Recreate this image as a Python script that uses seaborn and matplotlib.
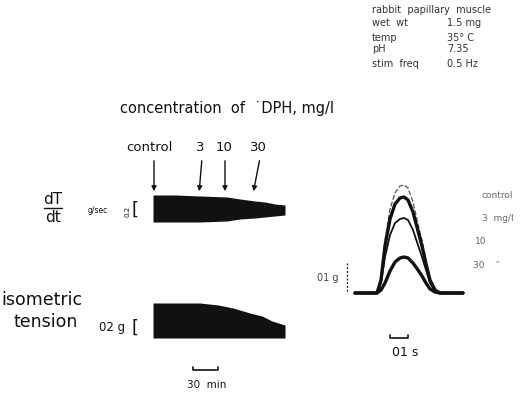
import numpy as np
import pandas as pd
import matplotlib
matplotlib.use('Agg')
import matplotlib.pyplot as plt
import seaborn as sns

sns.set_theme(style='white')
plt.rcParams['font.family'] = ['DejaVu Sans']

# --- data (canvas units = pixels, y downwards)
doses = ['control', '3', '10', '30']
dose_arrow_x = [154, 199, 225, 253]
dose_arrow_top_x = [154, 202, 225, 260]
dose_label_x = [149, 200, 224, 258]

# dT/dt chart-recorder band (upper and lower envelope)
dtdt_x = [153, 175, 200, 227, 240, 255, 265, 275, 285]
dtdt_upper = [195, 195, 196, 197, 199, 201, 202, 204, 205]
dtdt_lower = [222, 222, 222, 221, 219, 218, 217, 216, 215]

# isometric tension band
tens_x = [153, 180, 200, 218, 233, 250, 262, 272, 285]
tens_upper = [303, 303, 303, 305, 308, 313, 316, 321, 325]
tens_lower = [338, 338, 338, 338, 338, 338, 338, 338, 338]

# single twitches (right panel)
twitch_x = [355, 372, 377, 381, 385, 390, 395, 400, 404, 408, 413, 418, 422, 426, 430, 435, 440, 463]
twitch_control = [293, 293, 293, 279, 240, 209, 193, 186, 185, 188, 202, 224, 240, 260, 279, 290, 293, 293]
twitch_3 = [293, 293, 293, 280, 246, 219, 204, 198, 197, 200, 212, 231, 246, 264, 280, 290, 293, 293]
twitch_10 = [293, 293, 293, 283, 257, 235, 223, 219, 218, 220, 230, 245, 257, 270, 283, 291, 293, 293]
twitch_30 = [293, 293, 293, 290, 283, 271, 262, 258, 257, 258, 263, 270, 276, 283, 289, 292, 293, 293]
twitch_labels = ['control', '3  mg/l', '10', '30    \u2033']
twitch_label_y = [195, 218, 241, 266]
twitch_label_x = [482, 482, 475, 473]

info_names = ['wet  wt', 'temp', 'pH', 'stim  freq']
info_values = ['1.5 mg', '35\u00b0 C', '7.35', '0.5 Hz']
info_y = [23, 38, 49, 64]

fig = plt.figure(figsize=(5.22, 3.94), dpi=100)
ax = fig.add_axes([0, 0, 1, 1])
ax.set_xlim(0, 522)
ax.set_ylim(394, 0)
ax.axis('off')

ink = '#111111'

# --- header block
ax.text(372, 10, 'rabbit  papillary  muscle', fontsize=7, color='#333333', va='center')
for name, val, y in zip(info_names, info_values, info_y):
    ax.text(372, y, name, fontsize=7, color='#333333', va='center')
    ax.text(447, y, val, fontsize=7, color='#333333', va='center')

ax.text(120, 108, 'concentration  of  \u02d9DPH, mg/l', fontsize=10.5, color=ink, va='center')

# dose labels and arrows
for lab, lx, ax_bot, ax_top in zip(doses, dose_label_x, dose_arrow_x, dose_arrow_top_x):
    ax.text(lx, 147, lab, fontsize=9.5, color=ink, ha='center', va='center')
    ax.annotate('', xy=(ax_bot, 194), xytext=(ax_top, 158),
                arrowprops=dict(arrowstyle='-|>', lw=1.0, color=ink, mutation_scale=7))

# bands
ax.fill_between(dtdt_x, dtdt_upper, dtdt_lower, color=ink, lw=0)
ax.fill_between(tens_x, tens_upper, tens_lower, color=ink, lw=0)

# dT/dt label
ax.text(53, 199, 'dT', fontsize=11, color=ink, ha='center', va='center')
ax.plot([44, 62], [208, 208], color=ink, lw=1)
ax.text(53, 217, 'dt', fontsize=11, color=ink, ha='center', va='center')
ax.text(98, 210, 'g/sec', fontsize=5.5, color=ink, ha='center', va='center')
ax.text(127, 211, '0.2', fontsize=5, color=ink, ha='center', va='center', rotation=90)
ax.text(135, 210, '[', fontsize=13, color=ink, ha='center', va='center')

# isometric tension label
ax.text(1, 300, 'isometric', fontsize=12.5, color=ink, va='center')
ax.text(13, 322, 'tension', fontsize=12.5, color=ink, va='center')
ax.text(112, 328, '02 g', fontsize=8.5, color=ink, ha='center', va='center')
ax.text(135, 328, '[', fontsize=13, color=ink, ha='center', va='center')

# time bar 30 min
ax.plot([193, 193, 218, 218], [367, 370, 370, 367], color=ink, lw=1.2)
ax.text(207, 385, '30  min', fontsize=7.5, color=ink, ha='center', va='center')

# --- twitches
tw = pd.DataFrame({'x': twitch_x, 'control': twitch_control, '3': twitch_3,
                   '10': twitch_10, '30': twitch_30})
styles = {'control': dict(lw=0.9, color='#555555', ls=(0, (4, 1.5))),
          '3': dict(lw=2.4, color=ink, ls='-'),
          '10': dict(lw=1.3, color=ink, ls='-'),
          '30': dict(lw=2.4, color=ink, ls='-')}
for d in doses:
    sns.lineplot(data=tw, x='x', y=d, ax=ax, legend=False, **styles[d])
ax.set_xlim(0, 522)
ax.set_ylim(394, 0)
ax.set_xlabel('')
ax.set_ylabel('')

for lab, lx, ly in zip(twitch_labels, twitch_label_x, twitch_label_y):
    ax.text(lx, ly, lab, fontsize=6.5, color='#666666', va='center')

# 0.1 g scale
ax.plot([347, 347], [263, 292], color=ink, lw=0.9, ls=(0, (1.5, 1.5)))
ax.text(328, 278, '01 g', fontsize=7, color='#444444', ha='center', va='center')

# 0.1 s bar
ax.plot([390, 390, 408, 408], [335, 338, 338, 335], color=ink, lw=1.2)
ax.text(405, 352, '01 s', fontsize=9, color=ink, ha='center', va='center')

fig.savefig('out.png', dpi=100)
